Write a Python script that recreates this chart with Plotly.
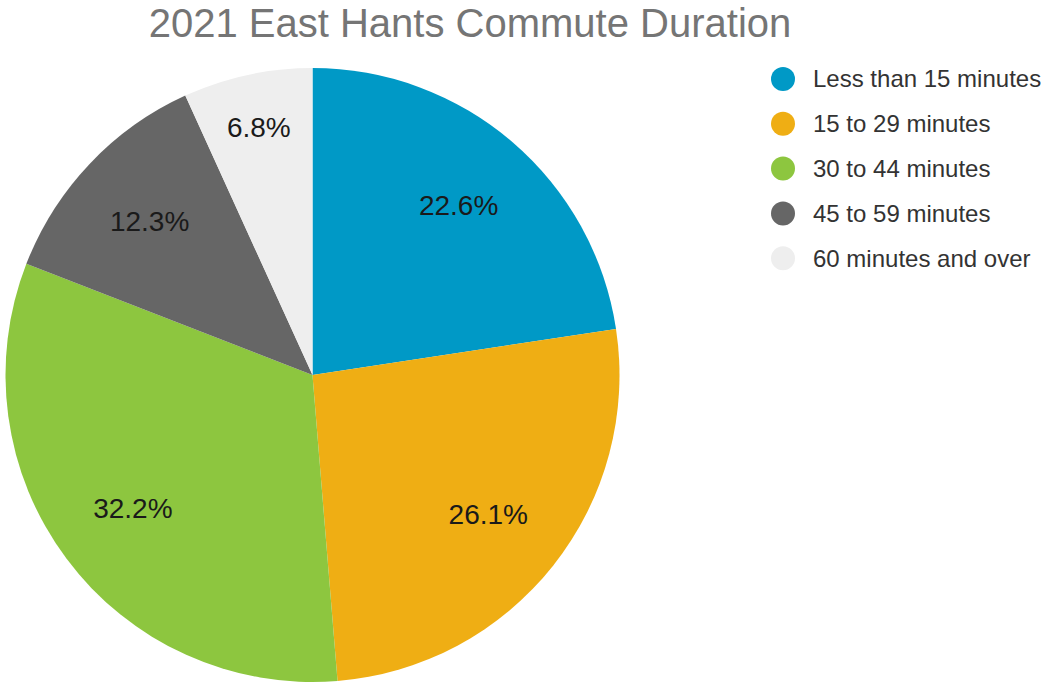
import plotly.graph_objects as go

categories = ["Less than 15 minutes", "15 to 29 minutes", "30 to 44 minutes",
              "45 to 59 minutes", "60 minutes and over"]
shares = [22.6, 26.1, 32.2, 12.3, 6.8]
colors = ["#0099C6", "#EFAE14", "#8DC63F", "#666666", "#EEEEEE"]
title_text = "2021 East Hants Commute Duration"

W, H = 1043, 684
FONT = "Liberation Sans, Arial, sans-serif"
dom = dict(x=[5 / W, 620 / W], y=[1 - 682 / H, 1 - 68 / H])

fig = go.Figure()
# coloured slices
fig.add_trace(go.Pie(
    labels=categories, values=shares, sort=False, direction="clockwise", rotation=0,
    marker=dict(colors=colors, line=dict(width=0)),
    textinfo="none", domain=dom, showlegend=False, hoverinfo="label+percent",
))
# transparent ring carrying the percentage labels (pushes labels outward)
fig.add_trace(go.Pie(
    labels=categories, values=shares, sort=False, direction="clockwise", rotation=0,
    hole=0.46,
    marker=dict(colors=["rgba(0,0,0,0)"] * len(shares), line=dict(width=0)),
    texttemplate="%{value:.1f}%", textposition="inside", insidetextorientation="horizontal",
    textfont=dict(family=FONT, size=28, color="#1a1a1a"),
    domain=dom, showlegend=False, hoverinfo="skip",
))

# custom legend with round markers
leg_x, leg_y0, leg_dy = 783, 79, 44.8
shapes, annos = [], []
for i, (cat, col) in enumerate(zip(categories, colors)):
    yc = 1 - (leg_y0 + i * leg_dy) / H
    shapes.append(dict(type="circle", xref="paper", yref="paper",
                       xsizemode="pixel", ysizemode="pixel",
                       xanchor=leg_x / W, yanchor=yc,
                       x0=-12, x1=12, y0=-12, y1=12,
                       fillcolor=col, line=dict(width=0)))
    annos.append(dict(x=(leg_x + 28) / W, y=yc, xref="paper", yref="paper",
                      xanchor="left", yanchor="middle", text=cat, showarrow=False,
                      font=dict(family=FONT, size=24, color="#333333")))

fig.update_layout(
    width=W, height=H, margin=dict(l=0, r=0, t=0, b=0),
    paper_bgcolor="white", plot_bgcolor="white",
    title=dict(text=title_text, x=470 / W, xanchor="center", y=1 - 23 / H, yanchor="middle",
               font=dict(family=FONT, size=40, color="#757575")),
    shapes=shapes, annotations=annos,
)
fig.write_html("out.html", config={"displayModeBar": False},
               post_script="document.body.style.margin='0';")
